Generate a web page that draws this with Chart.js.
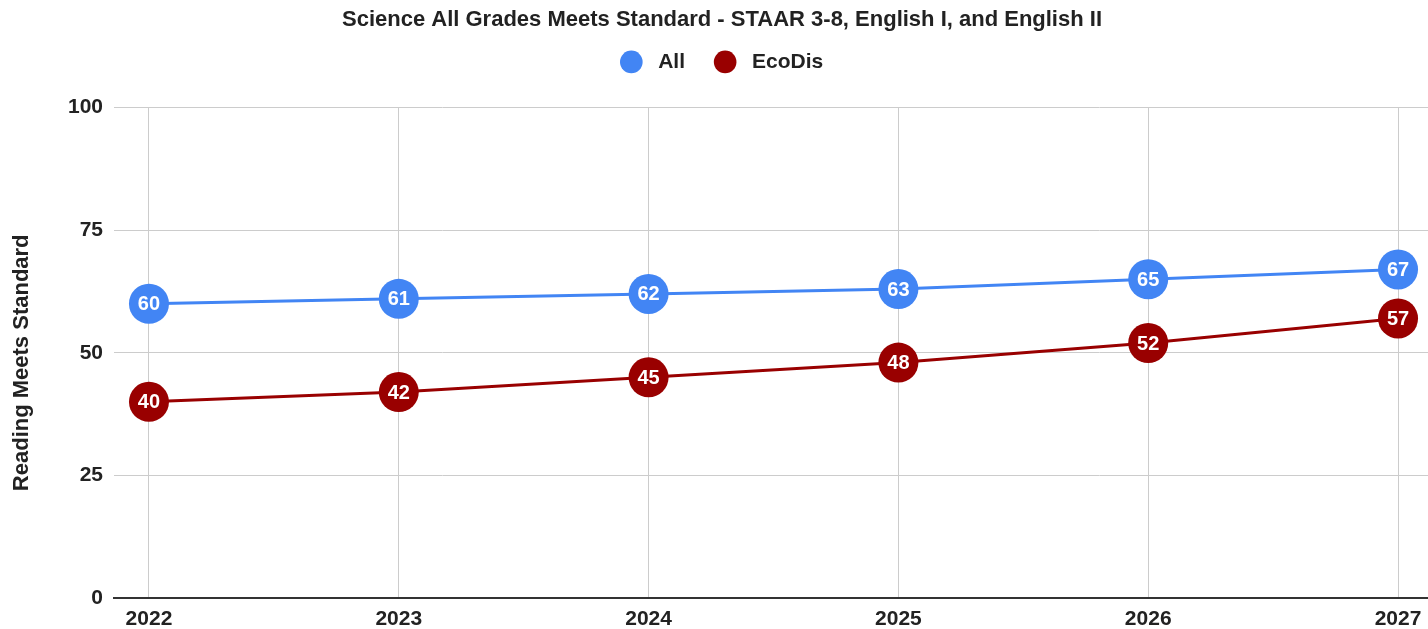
<!DOCTYPE html>
<html>
<head>
<meta charset="utf-8">
<script src="https://cdn.jsdelivr.net/npm/chart.js@4"></script>
<style>
    html, body { margin: 0; padding: 0; background: #fff; }
    #wrap { width: 1428px; height: 629px; }
</style>
</head>
<body>
<div id="wrap"><canvas id="chart"></canvas></div>
<script>
/* Science meets standard — line chart with labelled points */

const YEARS = [2022, 2023, 2024, 2025, 2026, 2027];
const ALL_VALUES = [60, 61, 62, 63, 65, 67];
const ECODIS_VALUES = [40, 42, 45, 48, 52, 57];
const Y_TICKS = [0, 25, 50, 75, 100];
const Y_TITLE = 'Reading Meets Standard';

const COLORS = {
    blue: '#4285f4',
    red: '#990000',
    grid: '#cccccc',
    axis: '#333333',
    text: '#222222',
};

const FONT = "'Liberation Sans', Arial, sans-serif";

// Writes each value in white inside its point
const pointLabels = {
    id: 'pointLabels',
    afterDatasetsDraw(chart) {
        const ctx = chart.ctx;
        ctx.save();
        ctx.fillStyle = '#ffffff';
        ctx.font = 'bold 20px ' + FONT;
        ctx.textAlign = 'center';
        ctx.textBaseline = 'middle';
        chart.data.datasets.forEach((ds, i) => {
            chart.getDatasetMeta(i).data.forEach((pt, j) => {
                ctx.fillText(String(ds.data[j].y), pt.x, pt.y + 1);
            });
        });
        ctx.restore();
    },
};

// Y axis title, sitting a bit below the middle of the plot like the original
const yTitle = {
    id: 'yTitle',
    afterDraw(chart) {
        const { ctx, chartArea } = chart;
        ctx.save();
        ctx.translate(22, (chartArea.top + chartArea.bottom) / 2 + 10);
        ctx.rotate(-Math.PI / 2);
        ctx.fillStyle = COLORS.text;
        ctx.font = 'bold 22px ' + FONT;
        ctx.textAlign = 'center';
        ctx.textBaseline = 'middle';
        ctx.fillText(Y_TITLE, 0, 0);
        ctx.restore();
    },
};

const toPoints = vals => vals.map((v, i) => ({ x: YEARS[i], y: v }));

new Chart(document.getElementById('chart'), {
    type: 'line',
    data: {
        datasets: [
            {
                label: 'All',
                data: toPoints(ALL_VALUES),
                borderColor: COLORS.blue,
                backgroundColor: COLORS.blue,
                borderWidth: 3,
                pointRadius: 20,
                pointHoverRadius: 20,
                pointBorderWidth: 0,
            },
            {
                label: 'EcoDis',
                data: toPoints(ECODIS_VALUES),
                borderColor: COLORS.red,
                backgroundColor: COLORS.red,
                borderWidth: 3,
                pointRadius: 20,
                pointHoverRadius: 20,
                pointBorderWidth: 0,
            },
        ],
    },
    options: {
        responsive: true,
        maintainAspectRatio: false,
        animation: false,
        layout: { autoPadding: false, padding: { left: 16, right: 0, top: 0, bottom: 0 } },
        scales: {
            x: {
                type: 'linear',
                min: 2021.86,
                max: 2027.12,
                afterBuildTicks: scale => { scale.ticks = YEARS.map(v => ({ value: v })); },
                afterFit: scale => {
                    scale.height = 31;
                    scale.paddingLeft = 0;
                    scale.paddingRight = 0;
                },
                ticks: {
                    callback: v => String(v),
                    font: { family: FONT, size: 21, weight: 'bold' },
                    color: COLORS.text,
                    padding: 9,
                    maxRotation: 0,
                    autoSkip: false,
                },
                grid: { color: COLORS.grid, drawTicks: false },
                border: { display: true, color: COLORS.axis, width: 2 },
            },
            y: {
                min: 0,
                max: 100,
                afterBuildTicks: scale => { scale.ticks = Y_TICKS.map(v => ({ value: v })); },
                afterFit: scale => { scale.width = 98; },
                ticks: {
                    font: { family: FONT, size: 21, weight: 'bold' },
                    color: COLORS.text,
                    padding: 11,
                },
                grid: {
                    color: ctx => ctx.tick && ctx.tick.value === 0 ? COLORS.axis : COLORS.grid,
                    lineWidth: ctx => ctx.tick && ctx.tick.value === 0 ? 2 : 1,
                    drawTicks: false,
                },
                border: { display: false },
            },
        },
        plugins: {
            title: {
                display: true,
                text: 'Science All Grades Meets Standard - STAAR 3-8, English I, and English II',
                font: { family: FONT, size: 22, weight: 'bold' },
                color: COLORS.text,
                padding: { top: 7, bottom: 0 },
            },
            legend: {
                labels: {
                    usePointStyle: true,
                    pointStyle: 'circle',
                    boxHeight: 16,
                    font: { family: FONT, size: 21, weight: 'bold' },
                    color: COLORS.text,
                    padding: 18,
                    // a little more room round the legend text
                    generateLabels: chart => {
                        const items = Chart.defaults.plugins.legend.labels.generateLabels(chart);
                        items.forEach((it, i) => {
                            it.text = ' ' + it.text + (i < items.length - 1 ? '  ' : '');
                        });
                        return items;
                    },
                },
            },
            // empty spacer under the legend
            subtitle: {
                display: true,
                text: ' ',
                weight: 0,
                font: { size: 1 },
                padding: { top: 0, bottom: 24 },
            },
            tooltip: { enabled: false },
        },
    },
    plugins: [pointLabels, yTitle],
});
</script>
</body>
</html>
